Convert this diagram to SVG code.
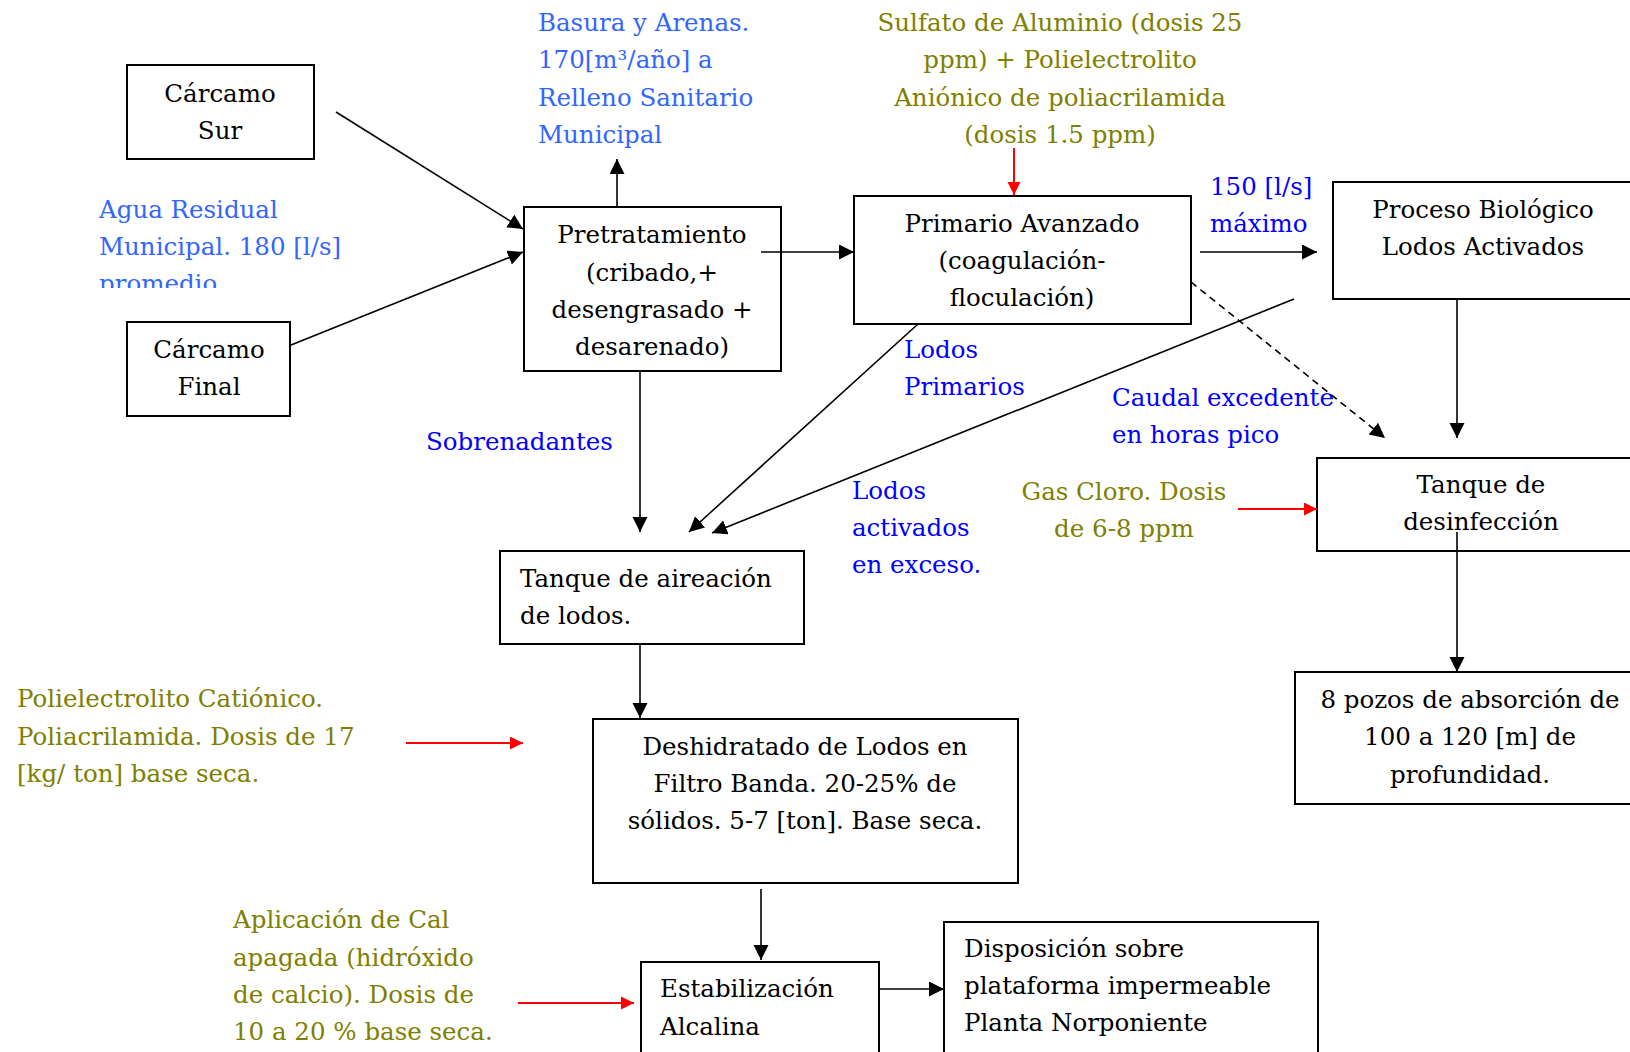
<svg xmlns="http://www.w3.org/2000/svg" width="1630" height="1052" viewBox="0 0 1630 1052">
<defs>
<style>
.box{fill:#fff;stroke:#000;stroke-width:2}
.t{font-family:"DejaVu Serif","Liberation Serif",serif;font-size:24.5px;fill:#000}
.c{text-anchor:middle}
.lb{fill:#3366FF}
.db{fill:#0000FF}
.ol{fill:#808000}
.ln{stroke:#000;stroke-width:1.6;fill:none}
.rd{stroke:#FF0000;stroke-width:2;fill:none}
</style>
<marker id="ab" markerUnits="userSpaceOnUse" markerWidth="16" markerHeight="16" refX="15" refY="7.5" orient="auto" viewBox="0 0 16 16"><path d="M0,0 L15,7.5 L0,15 z" fill="#000"/></marker>
<marker id="ar" markerUnits="userSpaceOnUse" markerWidth="14" markerHeight="14" refX="13" refY="6.5" orient="auto" viewBox="0 0 14 14"><path d="M0,0 L13,6.5 L0,13 z" fill="#FF0000"/></marker>
<clipPath id="clipAgua"><rect x="90" y="180" width="300" height="108"/></clipPath>
</defs>
<rect width="1630" height="1052" fill="#fff"/>

<g id="carcamo-sur">
<rect class="box" x="127" y="65" width="187" height="94"/>
<text class="t c" x="220" y="102">Cárcamo</text>
<text class="t c" x="220" y="139">Sur</text>
</g>

<g id="carcamo-final">
<rect class="box" x="127" y="322" width="163" height="94"/>
<text class="t c" x="209" y="358">Cárcamo</text>
<text class="t c" x="209" y="395">Final</text>
</g>

<g id="pretratamiento">
<rect class="box" x="524" y="207" width="257" height="164"/>
<text class="t c" x="652" y="243">Pretratamiento</text>
<text class="t c" x="652" y="281">(cribado,+</text>
<text class="t c" x="652" y="318">desengrasado +</text>
<text class="t c" x="652" y="355">desarenado)</text>
</g>

<g id="primario">
<rect class="box" x="854" y="196" width="337" height="128"/>
<text class="t c" x="1022" y="232">Primario Avanzado</text>
<text class="t c" x="1022" y="269">(coagulación-</text>
<text class="t c" x="1022" y="306">floculación)</text>
</g>

<g id="proceso-biologico">
<rect class="box" x="1333" y="182" width="310" height="117"/>
<text class="t c" x="1483" y="218">Proceso Biológico</text>
<text class="t c" x="1483" y="255">Lodos Activados</text>
</g>

<g id="tanque-desinfeccion">
<rect class="box" x="1317" y="458" width="330" height="93"/>
<text class="t c" x="1481" y="493">Tanque de</text>
<text class="t c" x="1481" y="530">desinfección</text>
</g>

<g id="pozos">
<rect class="box" x="1295" y="672" width="350" height="132"/>
<text class="t c" x="1470" y="708">8 pozos de absorción de</text>
<text class="t c" x="1470" y="745">100 a 120 [m] de</text>
<text class="t c" x="1470" y="783">profundidad.</text>
</g>

<g id="tanque-aireacion">
<rect class="box" x="500" y="551" width="304" height="93"/>
<text class="t" x="520" y="587">Tanque de aireación</text>
<text class="t" x="520" y="624">de lodos.</text>
</g>

<g id="deshidratado">
<rect class="box" x="593" y="719" width="425" height="164"/>
<text class="t c" x="805" y="755">Deshidratado de Lodos en</text>
<text class="t c" x="805" y="792">Filtro Banda. 20-25% de</text>
<text class="t c" x="805" y="829">sólidos. 5-7 [ton]. Base seca.</text>
</g>

<g id="estabilizacion">
<rect class="box" x="641" y="962" width="238" height="100"/>
<text class="t" x="660" y="997">Estabilización</text>
<text class="t" x="660" y="1035">Alcalina</text>
</g>

<g id="disposicion">
<rect class="box" x="944" y="922" width="374" height="140"/>
<text class="t" x="964" y="957">Disposición sobre</text>
<text class="t" x="964" y="994">plataforma impermeable</text>
<text class="t" x="964" y="1031">Planta Norponiente</text>
</g>

<g id="labels">
<text class="t lb" x="538" y="31">Basura y Arenas.</text>
<text class="t lb" x="538" y="68">170[m³/año] a</text>
<text class="t lb" x="538" y="106">Relleno Sanitario</text>
<text class="t lb" x="538" y="143">Municipal</text>
<g clip-path="url(#clipAgua)">
<text class="t lb" x="99" y="218">Agua Residual</text>
<text class="t lb" x="99" y="255">Municipal. 180 [l/s]</text>
<text class="t lb" x="99" y="292">promedio</text>
</g>
<text class="t ol c" x="1060" y="31">Sulfato de Aluminio (dosis 25</text>
<text class="t ol c" x="1060" y="68">ppm) + Polielectrolito</text>
<text class="t ol c" x="1060" y="106">Aniónico de poliacrilamida</text>
<text class="t ol c" x="1060" y="143">(dosis 1.5 ppm)</text>
<text class="t db" x="1210" y="195">150 [l/s]</text>
<text class="t db" x="1210" y="232">máximo</text>
<text class="t db" x="904" y="358">Lodos</text>
<text class="t db" x="904" y="395">Primarios</text>
<text class="t db" x="1112" y="406">Caudal excedente</text>
<text class="t db" x="1112" y="443">en horas pico</text>
<text class="t db" x="426" y="450">Sobrenadantes</text>
<text class="t db" x="852" y="499">Lodos</text>
<text class="t db" x="852" y="536">activados</text>
<text class="t db" x="852" y="573">en exceso.</text>
<text class="t ol c" x="1124" y="500">Gas Cloro. Dosis</text>
<text class="t ol c" x="1124" y="537">de 6-8 ppm</text>
<text class="t ol" x="17" y="707">Polielectrolito Catiónico.</text>
<text class="t ol" x="17" y="745">Poliacrilamida. Dosis de 17</text>
<text class="t ol" x="17" y="782">[kg/ ton] base seca.</text>
<text class="t ol" x="233" y="928">Aplicación de Cal</text>
<text class="t ol" x="233" y="966">apagada (hidróxido</text>
<text class="t ol" x="233" y="1003">de calcio). Dosis de</text>
<text class="t ol" x="233" y="1040">10 a 20 % base seca.</text>
</g>

<g id="connectors">
<line class="ln" x1="336" y1="112" x2="523" y2="229" marker-end="url(#ab)"/>
<line class="ln" x1="291" y1="345" x2="523" y2="252" marker-end="url(#ab)"/>
<line class="ln" x1="617" y1="207" x2="617" y2="159" marker-end="url(#ab)"/>
<line class="ln" x1="761" y1="252" x2="854" y2="252" marker-end="url(#ab)"/>
<line class="ln" x1="1200" y1="252" x2="1317" y2="252" marker-end="url(#ab)"/>
<line class="rd" x1="1014" y1="148" x2="1014" y2="195" marker-end="url(#ar)"/>
<line class="ln" x1="1191" y1="282" x2="1385" y2="438" stroke-dasharray="7,5" marker-end="url(#ab)"/>
<line class="ln" x1="1294" y1="299" x2="712" y2="533" marker-end="url(#ab)"/>
<line class="ln" x1="918" y1="324" x2="689" y2="532" marker-end="url(#ab)"/>
<line class="ln" x1="640" y1="371" x2="640" y2="532" marker-end="url(#ab)"/>
<line class="ln" x1="1457" y1="299" x2="1457" y2="438" marker-end="url(#ab)"/>
<line class="rd" x1="1238" y1="509" x2="1317" y2="509" marker-end="url(#ar)"/>
<line class="ln" x1="1457" y1="532" x2="1457" y2="672" marker-end="url(#ab)"/>
<line class="ln" x1="640" y1="644" x2="640" y2="718" marker-end="url(#ab)"/>
<line class="rd" x1="406" y1="743" x2="523" y2="743" marker-end="url(#ar)"/>
<line class="ln" x1="761" y1="889" x2="761" y2="960" marker-end="url(#ab)"/>
<line class="rd" x1="518" y1="1003" x2="634" y2="1003" marker-end="url(#ar)"/>
<line class="ln" x1="879" y1="989" x2="944" y2="989" marker-end="url(#ab)"/>
</g>
</svg>
